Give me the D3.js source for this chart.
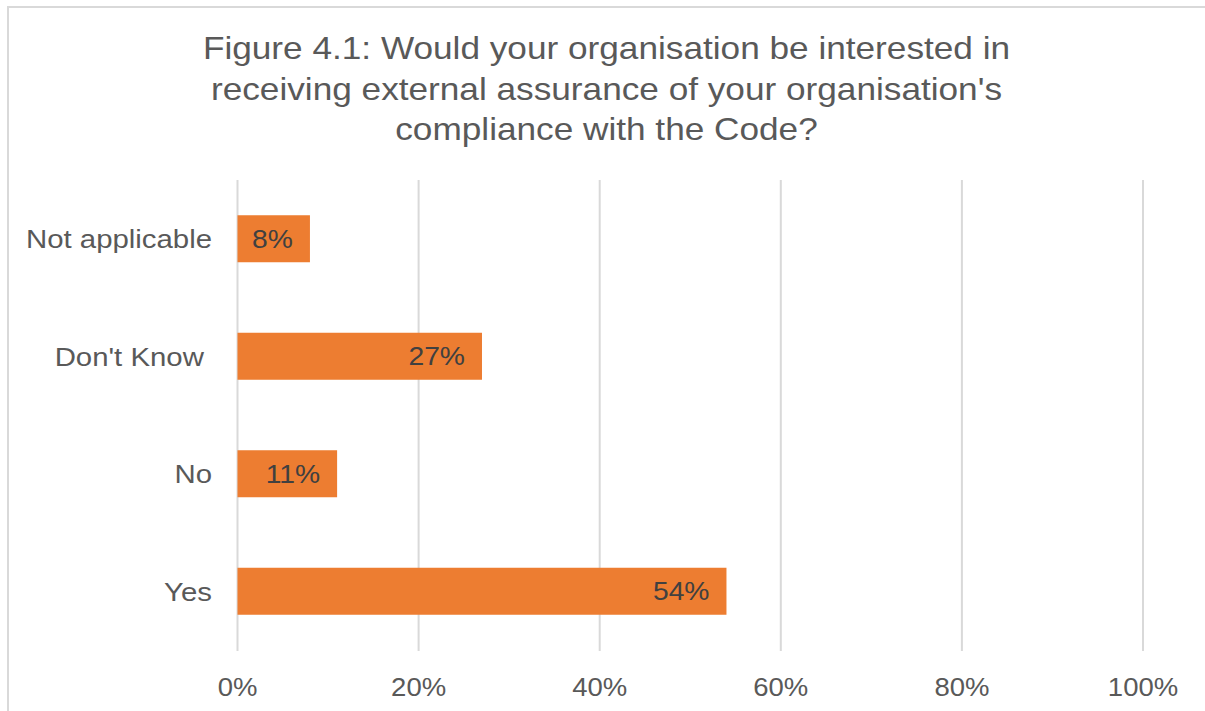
<!DOCTYPE html>
<html>
<head>
<meta charset="utf-8">
<script src="https://cdn.jsdelivr.net/npm/d3@7"></script>
<style>
  html, body { margin: 0; padding: 0; background: #fff; }
  svg { display: block; font-family: "Liberation Sans", Arial, sans-serif; }
  svg text { white-space: pre; }
</style>
</head>
<body>
<svg id="chart" width="1205" height="711"></svg>
<script>
// Survey responses (share of organisations)
const categories = ["Yes", "No", "Don't Know ", "Not applicable"];
const values = [0.54, 0.11, 0.27, 0.08];
const xTicks = [0, 0.2, 0.4, 0.6, 0.8, 1.0];
const titleLines = [
  "Figure 4.1: Would your organisation be interested in",
  "receiving external assurance of your organisation's",
  "compliance with the Code?"
];

const svg = d3.select("#chart");
const W = 1205, H = 711;
const textStretch = 1.1; // glyphs are drawn slightly wide

// outer chart frame
svg.append("rect")
  .attr("x", 8).attr("y", 7)
  .attr("width", W + 20).attr("height", H + 20)
  .attr("fill", "#fff")
  .attr("stroke", "#D9D9D9").attr("stroke-width", 2);

const plot = { left: 237.5, right: 1143, top: 180, bottom: 650 };

const x = d3.scaleLinear().domain([0, 1]).range([plot.left, plot.right]);
const y = d3.scaleBand()
  .domain(categories.slice().reverse())
  .range([plot.top, plot.bottom])
  .paddingInner(0.6)
  .paddingOuter(0.3);

// helper for horizontally stretched text
function stretchedText(sel, tx, ty) {
  return sel.attr("transform", `translate(${tx},${ty}) scale(${textStretch},1)`);
}

// title
titleLines.forEach((line, i) => {
  svg.append("text")
    .call(stretchedText, 606.5, 59 + i * 40.5)
    .attr("text-anchor", "middle")
    .attr("font-size", 32)
    .attr("fill", "#595959")
    .text(line);
});

// vertical gridlines
svg.append("g")
  .selectAll("line")
  .data(xTicks)
  .join("line")
  .attr("x1", d => x(d)).attr("x2", d => x(d))
  .attr("y1", plot.top).attr("y2", plot.bottom + 1)
  .attr("stroke", "#D9D9D9").attr("stroke-width", 2);

// x tick labels
const fmt = d3.format(".0%");
svg.append("g")
  .selectAll("text")
  .data(xTicks)
  .join("text")
  .each(function (d) { stretchedText(d3.select(this), x(d), 696); })
  .attr("text-anchor", "middle")
  .attr("font-size", 25)
  .attr("fill", "#595959")
  .text(d => fmt(d));

const data = categories.map((c, i) => ({ cat: c, val: values[i] }));

// bars
svg.append("g")
  .selectAll("rect")
  .data(data)
  .join("rect")
  .attr("x", x(0))
  .attr("y", d => y(d.cat))
  .attr("width", d => x(d.val) - x(0))
  .attr("height", y.bandwidth())
  .attr("fill", "#ED7D31");

// category labels
svg.append("g")
  .selectAll("text")
  .data(data)
  .join("text")
  .each(function (d) { stretchedText(d3.select(this), 212, y(d.cat) + y.bandwidth() / 2 + 9.5); })
  .attr("text-anchor", "end")
  .attr("font-size", 26.7)
  .attr("fill", "#595959")
  .text(d => d.cat);

// value labels at the inside end of each bar
svg.append("g")
  .selectAll("text")
  .data(data)
  .join("text")
  .each(function (d) { stretchedText(d3.select(this), x(d.val) - 17, y(d.cat) + y.bandwidth() / 2 + 9); })
  .attr("text-anchor", "end")
  .attr("font-size", 25.7)
  .attr("fill", "#404040")
  .text(d => fmt(d.val));
</script>
</body>
</html>
